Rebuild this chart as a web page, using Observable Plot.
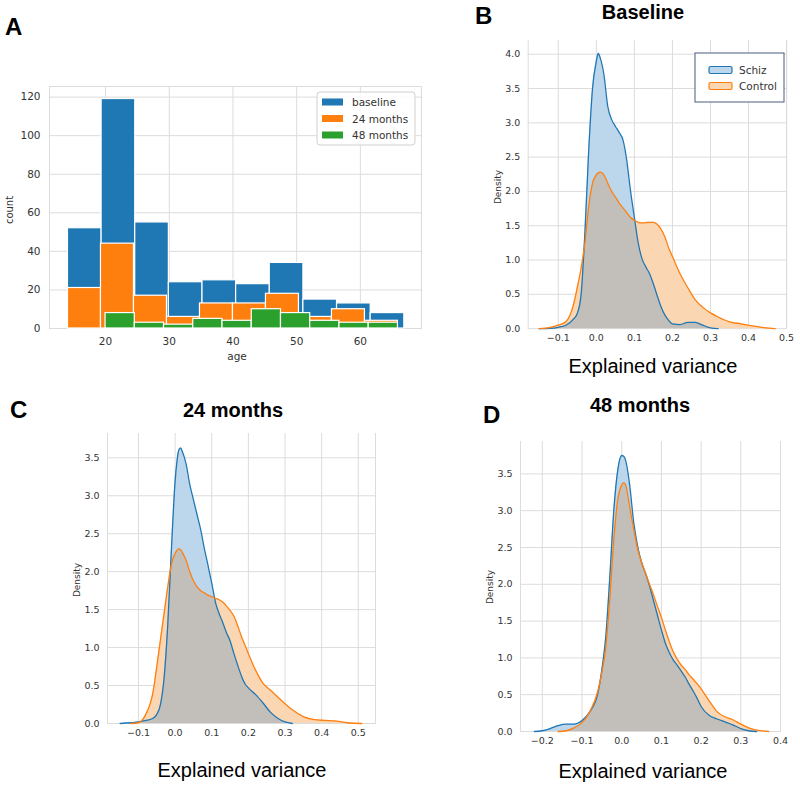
<!DOCTYPE html>
<html><head><meta charset="utf-8">
<script src="https://cdn.jsdelivr.net/npm/d3@7"></script>
<script src="https://cdn.jsdelivr.net/npm/@observablehq/plot@0.6"></script>
<style>
body{margin:0;background:#fff;}
#root{position:relative;width:800px;height:789px;overflow:hidden;background:#fff;}
.panel{position:absolute;}
#overlay{position:absolute;left:0;top:0;pointer-events:none;}
</style></head>
<body><div id="root"></div>
<script>
// ---------- Panel A data: age histograms ----------
const histSeries = ["baseline", "24 months", "48 months"];
const histColors = ["#1f77b4", "#ff7f0e", "#2ca02c"];
const histRange = [[14.1, 66.9], [14.1, 65.9], [20.0, 65.9]];
const countsBaseline = [52, 119, 55, 24, 25, 23, 34, 15, 13, 8];
const counts24 = [21, 44, 17, 6, 13, 13, 18, 6, 10, 4];
const counts48 = [8, 3, 2, 5, 4, 10, 8, 4, 3, 3];
const ageTicks = [20, 30, 40, 50, 60];
const countTicks = [0, 20, 40, 60, 80, 100, 120];

// ---------- KDE data (Explained variance densities) ----------
const kdeSeries = ["Schiz", "Control"];
const xsB = [-0.15,-0.12,-0.1,-0.08,-0.06,-0.05,-0.04,-0.03,-0.02,-0.01,0,0.005,0.01,0.02,0.03,0.04,0.05,0.06,0.07,0.08,0.09,0.1,0.11,0.12,0.13,0.14,0.15,0.16,0.17,0.18,0.19,0.2,0.22,0.24,0.26,0.28,0.3,0.32,0.35,0.38,0.41,0.44,0.47];
const schizB = [0,0.005,0.02,0.05,0.14,0.22,0.5,1.4,2.6,3.5,3.9,4.01,3.95,3.7,3.24,3.05,2.95,2.86,2.75,2.45,2.0,1.62,1.25,1.02,0.9,0.8,0.65,0.48,0.32,0.2,0.12,0.07,0.06,0.09,0.09,0.05,0.01,0,0,0,0,0,0];
const controlB = [0,0.02,0.05,0.1,0.35,0.6,0.88,1.25,1.78,2.12,2.24,2.27,2.28,2.24,2.12,2.0,1.92,1.83,1.76,1.69,1.62,1.58,1.55,1.54,1.545,1.55,1.55,1.52,1.45,1.34,1.18,1.05,0.8,0.6,0.42,0.31,0.23,0.17,0.1,0.07,0.04,0.015,0];

const xsC = [-0.15,-0.12,-0.1,-0.08,-0.06,-0.05,-0.04,-0.03,-0.02,-0.01,0,0.005,0.01,0.015,0.02,0.03,0.04,0.05,0.06,0.07,0.08,0.09,0.1,0.11,0.12,0.13,0.14,0.15,0.16,0.17,0.18,0.19,0.2,0.22,0.24,0.26,0.28,0.3,0.32,0.35,0.38,0.41,0.44,0.47,0.51];
const schizC = [0,0.01,0.02,0.04,0.07,0.12,0.25,0.6,1.3,2.3,3.19,3.45,3.6,3.63,3.58,3.42,3.15,2.95,2.75,2.55,2.3,2.08,1.85,1.6,1.45,1.33,1.2,1.09,0.93,0.78,0.64,0.53,0.47,0.38,0.27,0.15,0.07,0.02,0,0,0,0,0,0,0];
const controlC = [0,0,0.01,0.12,0.42,0.75,1.1,1.45,1.8,2.1,2.24,2.28,2.3,2.29,2.25,2.15,2.0,1.88,1.8,1.75,1.72,1.69,1.67,1.65,1.63,1.6,1.55,1.49,1.42,1.3,1.16,1.04,0.92,0.7,0.53,0.44,0.35,0.26,0.18,0.09,0.05,0.04,0.03,0.01,0];

const xsD = [-0.22,-0.2,-0.18,-0.16,-0.14,-0.12,-0.1,-0.08,-0.06,-0.05,-0.04,-0.03,-0.02,-0.01,0,0.005,0.01,0.02,0.03,0.04,0.05,0.06,0.07,0.08,0.09,0.1,0.11,0.12,0.13,0.14,0.15,0.16,0.17,0.18,0.19,0.2,0.22,0.24,0.26,0.28,0.3,0.32,0.34,0.37];
const schizD = [0,0.01,0.04,0.08,0.1,0.1,0.15,0.27,0.52,0.84,1.3,2.1,3.0,3.55,3.75,3.74,3.68,3.35,2.85,2.52,2.3,2.15,1.98,1.78,1.58,1.38,1.2,1.07,0.97,0.9,0.82,0.74,0.64,0.55,0.45,0.34,0.22,0.17,0.13,0.09,0.04,0.01,0,0];
const controlD = [0,0,0,0,0.01,0.05,0.12,0.27,0.55,0.8,1.15,1.8,2.6,3.15,3.35,3.38,3.35,3.05,2.75,2.48,2.3,2.15,2.0,1.86,1.7,1.55,1.38,1.22,1.08,0.98,0.9,0.84,0.77,0.71,0.65,0.58,0.42,0.27,0.2,0.16,0.1,0.05,0.02,0];

const evTicks = [-0.1, 0, 0.1, 0.2, 0.3, 0.4, 0.5];
const evTicksD = [-0.2, -0.1, 0, 0.1, 0.2, 0.3, 0.4];
const densTicksB = [0, 0.5, 1, 1.5, 2, 2.5, 3, 3.5, 4];
const densTicksCD = [0, 0.5, 1, 1.5, 2, 2.5, 3, 3.5];

// ---------- styles ----------
const GRID = "#dcdcdc";
const BLUE = "#1f77b4", ORANGE = "#ff7f0e";
const BLUE_FILL = "#bcd6ec", ORANGE_FILL = "#fbd6b3", OVER_FILL = "#c2bfba";
const TICK_STYLE = {fontFamily: "DejaVu Sans, sans-serif", fontSize: "10px", color: "#333", background: "transparent", overflow: "visible"};
const root = document.getElementById("root");
const fmt1 = d => Math.abs(d) < 1e-9 ? "0.0" : d.toFixed(1).replace("-", "\u2212");

function place(svg, left, top) {
  const div = document.createElement("div");
  div.className = "panel";
  div.style.left = left + "px"; div.style.top = top + "px";
  div.appendChild(svg); root.appendChild(div);
}

// ---------- Panel A ----------
{
  const countsAll = [countsBaseline, counts24, counts48];
  const bars = [];
  countsAll.forEach((counts, s) => {
    const [a, b] = histRange[s];
    const w = (b - a) / counts.length;
    counts.forEach((c, i) => bars.push({series: histSeries[s], x1: a + i * w, x2: a + (i + 1) * w, count: c}));
  });
  const pl = Plot.plot({
    width: 430, height: 280, marginLeft: 49, marginRight: 9, marginTop: 6, marginBottom: 32,
    x: {domain: [11.2, 69.6]}, y: {domain: [0, 125.5]},
    color: {domain: histSeries, range: histColors},
    style: TICK_STYLE,
    marks: [
      Plot.gridX(ageTicks, {stroke: GRID, strokeOpacity: 1}),
      Plot.gridY(countTicks, {stroke: GRID, strokeOpacity: 1}),
      Plot.frame({stroke: GRID}),
      ...histSeries.map(s => Plot.rectY(bars.filter(d => d.series === s), {x1: "x1", x2: "x2", y: "count", fill: "series", stroke: "#fff", strokeWidth: 1.2, inset: 0})),
      Plot.axisX(ageTicks, {tickSize: 0, tickPadding: 9, label: null, fontSize: 10.5}),
      Plot.axisY(countTicks, {tickSize: 0, tickPadding: 9, label: null, fontSize: 10.5})
    ]
  });
  place(pl, 0, 80);
}

// ---------- KDE panels ----------
function supportFilter(data, key) {
  let first = data.findIndex(d => d[key] > 0), last = data.length - 1;
  while (last > 0 && !(data[last][key] > 0)) last--;
  return data.filter((d, i) => i >= Math.max(0, first - 1) && i <= Math.min(data.length - 1, last + 1));
}
function kdePanel(xs, schiz, control, frame, xDomain, yDomain, xTicks, yTicks) {
  const data = xs.map((x, i) => ({x, schiz: schiz[i], control: control[i], both: Math.min(schiz[i], control[i])}));
  const [fl, fr, ft, fb] = frame;
  const ml = 45, mr = 14, mt = 5, mb = 25;
  const curve = "monotone-x";
  const pl = Plot.plot({
    width: fr - fl + ml + mr, height: fb - ft + mt + mb,
    marginLeft: ml, marginRight: mr, marginTop: mt, marginBottom: mb,
    x: {domain: xDomain}, y: {domain: yDomain},
    style: TICK_STYLE,
    marks: [
      Plot.gridX(xTicks, {stroke: GRID, strokeOpacity: 1}),
      Plot.gridY(yTicks, {stroke: GRID, strokeOpacity: 1}),
      Plot.frame({anchor: "left", stroke: GRID}),
      Plot.frame({anchor: "right", stroke: GRID}),
      Plot.areaY(data, {x: "x", y: "schiz", fill: BLUE_FILL, curve}),
      Plot.areaY(data, {x: "x", y: "control", fill: ORANGE_FILL, curve}),
      Plot.areaY(data, {x: "x", y: "both", fill: OVER_FILL, curve}),
      Plot.lineY(supportFilter(data, "schiz"), {x: "x", y: "schiz", stroke: BLUE, strokeWidth: 1.3, curve}),
      Plot.lineY(supportFilter(data, "control"), {x: "x", y: "control", stroke: ORANGE, strokeWidth: 1.3, curve}),
      Plot.axisX(xTicks, {tickSize: 0, tickPadding: 6, tickFormat: fmt1, label: null, fontSize: 9.5}),
      Plot.axisY(yTicks, {tickSize: 0, tickPadding: 8, tickFormat: fmt1, label: null, fontSize: 9.5})
    ]
  });
  place(pl, fl - ml, ft - mt);
}
kdePanel(xsB, schizB, controlB, [528, 788, 40, 330], [-0.179, 0.5], [0, 4.2], evTicks, densTicksB);
kdePanel(xsC, schizC, controlC, [107, 375, 433, 723], [-0.1845, 0.547], [0, 3.82], evTicks, densTicksCD);
kdePanel(xsD, schizD, controlD, [520, 780, 441, 731], [-0.255, 0.4], [0, 3.94], evTicksD, densTicksCD);

// ---------- overlay: panel letters, titles, axis labels, legends ----------
const ov = d3.select(root).append("svg").attr("id", "overlay").attr("width", 800).attr("height", 789);
const SANS = "Liberation Sans, Arial, sans-serif";
const txt = (x, y, s, o = {}) => {
  const t = ov.append("text").attr("x", x).attr("y", y).text(s)
    .attr("font-family", o.family || SANS).attr("font-size", o.size || 20)
    .attr("font-weight", o.weight || "normal").attr("fill", o.fill || "#000")
    .attr("text-anchor", o.anchor || "start");
  if (o.rotate) t.attr("transform", `rotate(-90 ${x} ${y})`).attr("dominant-baseline", "middle");
  return t;
};
const letters = [["A", 5, 35], ["B", 475, 24], ["C", 10, 418], ["D", 483, 423]];
letters.forEach(([s, x, y]) => txt(x, y, s, {size: 24, weight: "bold"}));
const titles = [["Baseline", 643, 19], ["24 months", 233, 417], ["48 months", 640, 412]];
titles.forEach(([s, x, y]) => txt(x, y, s, {size: 20, weight: "bold", anchor: "middle"}));
const xLabels = [[653, 373], [242, 777], [643, 778]];
xLabels.forEach(([x, y]) => txt(x, y, "Explained variance", {size: 20, anchor: "middle"}));
const densLabels = [[498, 187], [77, 580], [490, 587]];
densLabels.forEach(([x, y]) => txt(x, y, "Density", {size: 9, anchor: "middle", rotate: true, family: "DejaVu Sans, sans-serif", fill: "#333"}));
txt(10, 210, "count", {size: 10, anchor: "middle", rotate: true, family: "DejaVu Sans, sans-serif", fill: "#333"});
txt(237, 360, "age", {size: 10.5, anchor: "middle", family: "DejaVu Sans, sans-serif", fill: "#333"});

// legend A
ov.append("rect").attr("x", 317).attr("y", 92).attr("width", 98).attr("height", 53).attr("rx", 3)
  .attr("fill", "#fff").attr("fill-opacity", 0.85).attr("stroke", "#d0d0d0");
histSeries.forEach((s, i) => {
  const cy = 102 + i * 16.5;
  ov.append("rect").attr("x", 322).attr("y", cy - 3.5).attr("width", 21).attr("height", 7).attr("fill", histColors[i]);
  txt(352, cy + 4, s, {size: 10.5, family: "DejaVu Sans, sans-serif", fill: "#333"});
});
// legend B
ov.append("rect").attr("x", 695).attr("y", 53).attr("width", 89).attr("height", 49)
  .attr("fill", "#fff").attr("stroke", "#4b5d7e").attr("stroke-width", 1);
[[BLUE_FILL, BLUE], [ORANGE_FILL, ORANGE]].forEach(([f, s], i) => {
  const cy = 70 + i * 16;
  ov.append("rect").attr("x", 709).attr("y", cy - 3.5).attr("width", 23).attr("height", 7).attr("rx", 1.5)
    .attr("fill", f).attr("stroke", s).attr("stroke-width", 1.2);
  txt(739, cy + 4, kdeSeries[i], {size: 10.5, family: "DejaVu Sans, sans-serif", fill: "#333"});
});
</script></body></html>
